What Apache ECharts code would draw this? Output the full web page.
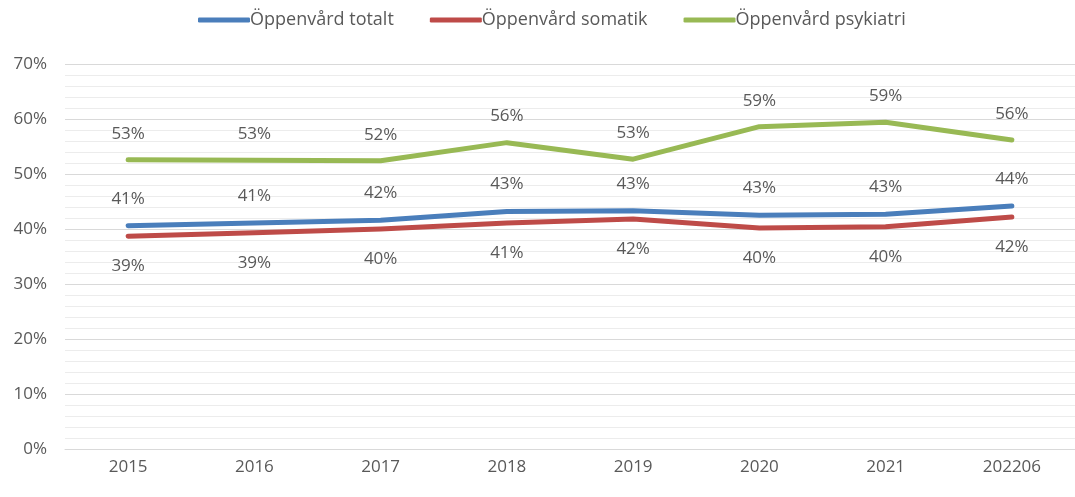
<!DOCTYPE html>
<html>
<head>
<meta charset="utf-8">
<script src="https://cdn.jsdelivr.net/npm/echarts@6/dist/echarts.min.js"></script>
<style>
  html, body { margin: 0; padding: 0; background: #fff; }
  #chart { width: 1075px; height: 497px; }
</style>
</head>
<body>
<div id="chart"></div>
<script>
var years = ['2015', '2016', '2017', '2018', '2019', '2020', '2021', '202206'];
var totalt = [40.6, 41.1, 41.6, 43.2, 43.3, 42.5, 42.7, 44.2];
var somatik = [38.7, 39.3, 40.0, 41.1, 41.8, 40.2, 40.4, 42.2];
var psykiatri = [52.6, 52.5, 52.4, 55.7, 52.7, 58.6, 59.4, 56.2];
var yTicks = [0, 70, 10]; // min, max, step

var FONT = '"Open Sans", sans-serif';
var TXT = '#595959';

function makeLine(name, data, color, labelPos, gap) {
    return {
        name: name,
        type: 'line',
        data: data,
        symbol: 'circle',
        symbolSize: 1,
        lineStyle: { width: 5, color: color, cap: 'round', join: 'round' },
        itemStyle: { color: color },
        label: {
            show: true,
            position: labelPos,
            distance: gap,
            color: TXT,
            fontFamily: FONT,
            fontSize: 17,
            formatter: function (p) { return Math.round(p.value) + '%'; }
        },
        emphasis: { disabled: true }
    };
}

var myChart = echarts.init(document.getElementById('chart'));
var option = {
    animation: false,
    textStyle: { fontFamily: FONT },
    legend: {
        top: 6,
        left: 193,
        itemWidth: 52,
        itemHeight: 5,
        itemGap: 36,
        icon: 'roundRect',
        textStyle: { color: TXT, fontSize: 18, fontFamily: FONT, padding: [0, 0, 0, -5] },
        data: ['Öppenvård totalt', 'Öppenvård somatik', 'Öppenvård psykiatri']
    },
    grid: { left: 65, top: 64, width: 1020, bottom: 48, containLabel: false },
    xAxis: {
        type: 'category',
        data: years,
        boundaryGap: true,
        axisLine: { show: true, lineStyle: { color: '#d9d9d9', width: 1 } },
        axisTick: { show: false },
        axisLabel: { color: TXT, fontSize: 17, fontFamily: FONT, margin: 10 }
    },
    yAxis: {
        type: 'value',
        min: yTicks[0],
        max: yTicks[1],
        interval: yTicks[2],
        axisLine: { show: false },
        axisTick: { show: false },
        axisLabel: { color: TXT, fontSize: 17, fontFamily: FONT, margin: 18, formatter: '{value}%' },
        splitLine: { lineStyle: { color: '#d9d9d9', width: 1 } },
        minorTick: { show: false, splitNumber: 5 },
        minorSplitLine: { show: true, lineStyle: { color: '#ececec', width: 1 } }
    },
    series: [
        makeLine('Öppenvård totalt', totalt, '#4a7ebb', 'top', 18),
        makeLine('Öppenvård somatik', somatik, '#be4b48', 'bottom', 21),
        makeLine('Öppenvård psykiatri', psykiatri, '#98b954', 'top', 17)
    ]
};
myChart.setOption(option);
</script>
</body>
</html>
